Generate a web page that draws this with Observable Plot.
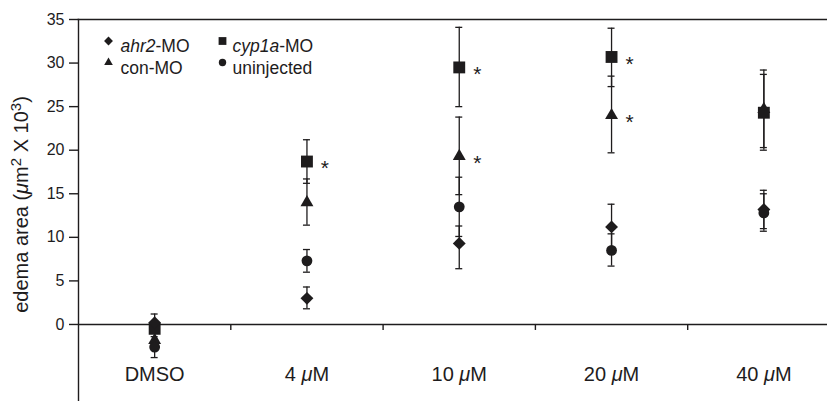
<!DOCTYPE html>
<html>
<head>
<meta charset="utf-8">
<script src="https://cdn.jsdelivr.net/npm/d3@7"></script>
<script src="https://cdn.jsdelivr.net/npm/@observablehq/plot@0.6"></script>
<style>
  html, body { margin: 0; padding: 0; background: white; overflow: hidden; }
</style>
</head>
<body>
<div id="chart"></div>
<script>
// ---- data ----
const categories = ["DMSO", "4 μM", "10 μM", "20 μM", "40 μM"];

const ahr2Mean = [0.2, 3.0, 9.3, 11.2, 13.2];
const ahr2Lo   = [-0.8, 1.8, 6.4, 8.6, 11.0];
const ahr2Hi   = [1.2, 4.3, 11.3, 13.8, 15.4];
const ahr2Sig  = [false, false, false, false, false];

const cyp1aMean = [-0.5, 18.7, 29.5, 30.7, 24.3];
const cyp1aLo   = [-1.0, 16.2, 25.0, 27.3, 20.0];
const cyp1aHi   = [0.0, 21.2, 34.1, 34.0, 28.7];
const cyp1aSig  = [false, true, true, true, false];

const conMean = [-1.8, 14.0, 19.3, 24.0, 24.7];
const conLo   = [-2.8, 11.4, 14.9, 19.7, 20.3];
const conHi   = [-0.8, 16.7, 23.8, 28.5, 29.2];
const conSig  = [false, false, true, true, false];

const uninjMean = [-2.6, 7.3, 13.5, 8.5, 12.8];
const uninjLo   = [-3.8, 6.0, 10.1, 6.7, 10.7];
const uninjHi   = [-1.4, 8.6, 16.9, 10.4, 15.0];
const uninjSig  = [false, false, false, false, false];

const yTicks = [0, 5, 10, 15, 20, 25, 30, 35];
const yLabel = "edema area (μm² X 10³)";

// series definitions (legend order)
const series = [
  {name: "ahr2-MO",    symbol: "diamond2", r: 5.8, lr: 4.0, mean: ahr2Mean,  lo: ahr2Lo,  hi: ahr2Hi,  sig: ahr2Sig},
  {name: "cyp1a-MO",   symbol: "square",   r: 6.7, lr: 4.4, mean: cyp1aMean, lo: cyp1aLo, hi: cyp1aHi, sig: cyp1aSig},
  {name: "con-MO",     symbol: "triangle", r: 4.8, lr: 3.2, mean: conMean,   lo: conLo,   hi: conHi,   sig: conSig},
  {name: "uninjected", symbol: "circle",   r: 5.4, lr: 3.7, mean: uninjMean, lo: uninjLo, hi: uninjHi, sig: uninjSig}
];
const drawOrder = ["con-MO", "cyp1a-MO", "ahr2-MO", "uninjected"];

const rows = series.flatMap(s => categories.map((c, i) => ({
  series: s.name, cat: c, i, mean: s.mean[i], lo: s.lo[i], hi: s.hi[i], sig: s.sig[i]
})));

const ink = "#1e1c1d";
const xPos = d => d.i + 0.5;
const boundaries = d3.range(1, categories.length);

const marks = [];
// frame lines
marks.push(Plot.frame({anchor: "top", stroke: ink, strokeWidth: 1.6}));
marks.push(Plot.frame({anchor: "left", stroke: ink, strokeWidth: 1.4}));
marks.push(Plot.ruleY([0], {stroke: ink, strokeWidth: 1.4}));
marks.push(Plot.ruleX(boundaries, {x: d => d, y1: 0, y2: 0, insetBottom: -6, stroke: ink, strokeWidth: 1.4}));

// y axis
marks.push(Plot.axisY({ticks: yTicks, tickSize: 9, tickPadding: 5, fontSize: 16, label: null, stroke: ink, strokeWidth: 1.4}));

// x category labels
marks.push(Plot.text(categories, {
  x: (d, i) => i + 0.5, frameAnchor: "bottom", dy: -20.5, text: d => d, fontSize: 20, fill: ink
}));

// y axis title
marks.push(Plot.text([yLabel], {frameAnchor: "left", textAnchor: "middle", text: d => d, rotate: -90, dx: -56.5, dy: -6, fontSize: 20, fill: ink}));

// error bars
marks.push(Plot.ruleX(rows, {x: xPos, y1: "lo", y2: "hi", stroke: ink, strokeWidth: 1.3}));
marks.push(Plot.ruleY(rows, {y: "lo", x1: xPos, x2: xPos, insetLeft: -3.5, insetRight: -3.5, stroke: ink, strokeWidth: 1.3}));
marks.push(Plot.ruleY(rows, {y: "hi", x1: xPos, x2: xPos, insetLeft: -3.5, insetRight: -3.5, stroke: ink, strokeWidth: 1.3}));

// markers
for (const name of drawOrder) {
  const s = series.find(d => d.name === name);
  marks.push(Plot.dot(rows.filter(d => d.series === name), {
    x: xPos, y: "mean", symbol: s.symbol, r: s.r, fill: ink, stroke: "none"
  }));
}

// significance stars
marks.push(Plot.text(rows.filter(d => d.sig), {x: xPos, y: "mean", text: () => "*", dx: 18, dy: 7, fontSize: 21, fill: ink}));

// legend inside the plot (top-left)
series.forEach((s, k) => {
  const col = k % 2, row = Math.floor(k / 2);
  const mdx = 30 + col * 114, tdx = 42 + col * 112;
  const tdy = 20.5 + row * 21.5;
  marks.push(Plot.dot([s], {frameAnchor: "top-left", dx: mdx, dy: tdy + 1, symbol: s.symbol, r: s.lr, fill: ink, stroke: "none"}));
  marks.push(Plot.text([s], {frameAnchor: "top-left", dx: tdx, dy: tdy, text: d => d.name, textAnchor: "start", fontSize: 17.5, fill: ink}));
});

const svg = Plot.plot({
  width: 827,
  height: 401,
  marginLeft: 78,
  marginTop: 19,
  marginRight: 0,
  marginBottom: 0,
  style: {fontFamily: "'Liberation Sans', Arial, sans-serif", color: ink, background: "white"},
  x: {domain: [0, categories.length], range: [78, 839.5], axis: null},
  y: {domain: [-10, 35], range: [411.1, 19], axis: null},
  marks
});

// italic parts (μ, gene names) and superscripts as tspans
const italicParts = ["μ", "ahr2", "cyp1a"];
const superParts = {"²": "2", "³": "3"};
const splitRe = /(μ|ahr2|cyp1a|²|³)/;
d3.select(svg).selectAll("text").each(function () {
  const el = d3.select(this);
  if (this.querySelector("tspan")) return;
  const s = this.textContent;
  if (!splitRe.test(s)) return;
  const parts = s.split(splitRe).filter(p => p !== "");
  el.text(null);
  let raised = false;
  parts.forEach(p => {
    if (superParts[p]) {
      el.append("tspan").attr("font-size", "0.75em").attr("dy", "-7").text(superParts[p]);
      raised = true;
    } else {
      const t = el.append("tspan").attr("font-style", italicParts.includes(p) ? "italic" : null).text(p);
      if (raised) { t.attr("dy", "7"); raised = false; }
    }
  });
});

document.getElementById("chart").appendChild(svg);
</script>
</body>
</html>
